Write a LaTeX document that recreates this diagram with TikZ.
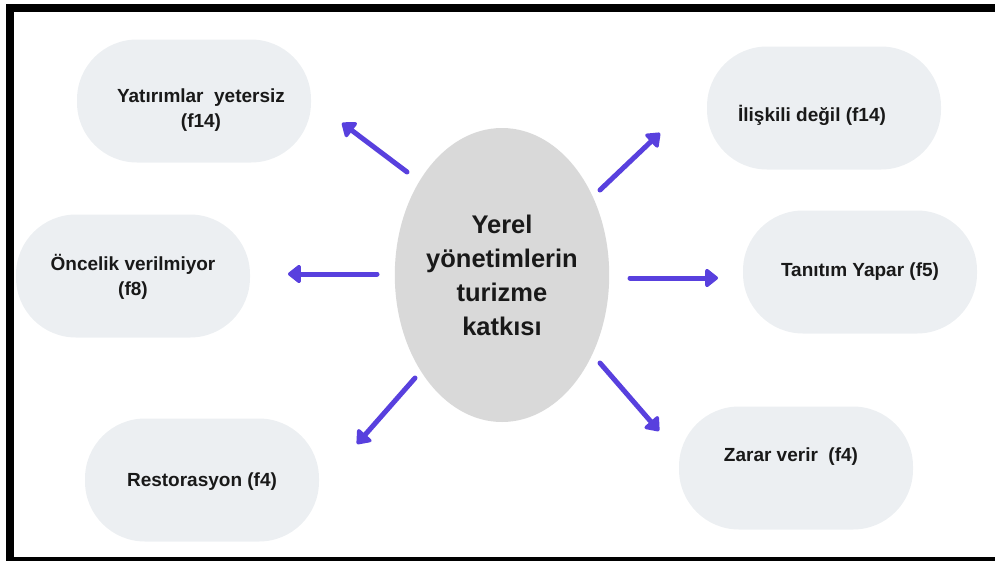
\documentclass[tikz,border=0pt]{standalone}
\usepackage{fontspec}
\setmainfont{Liberation Sans}
\usetikzlibrary{arrows.meta,shapes.geometric}
\definecolor{boxgray}{RGB}{236,239,242}
\definecolor{coregray}{RGB}{217,217,217}
\definecolor{flowviolet}{RGB}{88,64,222}

\begin{document}
\begin{tikzpicture}[x=1pt, y=-1pt,
    item/.style={fill=boxgray, rounded corners=60pt, minimum width=234pt, minimum height=123pt,
        inner sep=0pt},
    itemtext/.style={align=center, inner sep=0pt, text=black!90,
        font=\bfseries\fontsize{19}{24.5}\selectfont},
    core/.style={ellipse, fill=coregray, minimum width=195pt, minimum height=294pt, inner sep=0pt,
        align=center, text=black!90, font=\bfseries\fontsize{25.5}{34}\selectfont},
    flow/.style={draw=flowviolet, line width=5pt, line cap=round,
        -{Triangle[length=14pt, width=21pt, round]}}]
    \useasboundingbox (0,0) rectangle (995,560);
    \draw[line width=8pt] (10,8) rectangle (1003,561);

    \node[core] (core) at (502,275) {Yerel\\yönetimlerin\\turizme\\katkısı};

    \node[item, label={[itemtext, xshift=7pt, yshift=-9pt]center:Yatırımlar\ \ yetersiz\\(f14)}]
        (yatirim) at (194,101) {};
    \node[item, label={[itemtext, yshift=-1pt]center:Öncelik verilmiyor\\(f8)}]
        (oncelik) at (133,276) {};
    \node[item, label={[itemtext, yshift=-2pt]center:Restorasyon (f4)}]
        (restor) at (202,480) {};
    \node[item, label={[itemtext, xshift=-12pt, yshift=-7pt]center:İlişkili değil (f14)}]
        (iliskili) at (824,108) {};
    \node[item, label={[itemtext]center:Tanıtım Yapar (f5)}]
        (tanitim) at (860,272) {};
    \node[item, label={[itemtext, xshift=-5pt, yshift=11pt]center:Zarar verir\ \ (f4)}]
        (zarar) at (796,468) {};

    \coordinate (yatirim-a) at (407,172);
    \coordinate (yatirim-b) at (342,123);
    \coordinate (oncelik-a) at (377,274);
    \coordinate (oncelik-b) at (288,274);
    \coordinate (restor-a) at (415,378);
    \coordinate (restor-b) at (357,444);
    \coordinate (iliskili-a) at (600,190);
    \coordinate (iliskili-b) at (660,133);
    \coordinate (tanitim-a) at (630,278);
    \coordinate (tanitim-b) at (718,278);
    \coordinate (zarar-a) at (600,363);
    \coordinate (zarar-b) at (659,431);

    \foreach \n in {yatirim,oncelik,restor,iliskili,tanitim,zarar}
        \draw[flow] (\n-a) -- (\n-b);
\end{tikzpicture}
\end{document}
